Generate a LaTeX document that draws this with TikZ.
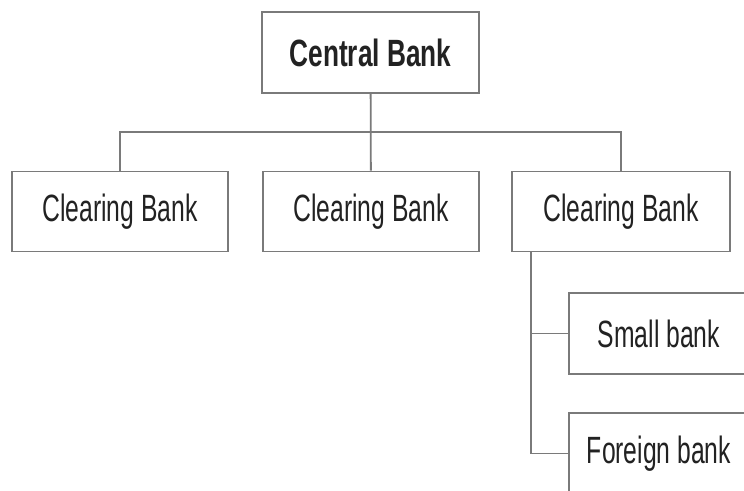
\documentclass[tikz,border=0pt]{standalone}
\usepackage{fontspec}
\setmainfont{Liberation Sans}[FakeStretch=0.65]
\newfontfamily\headfont{Liberation Sans}[FakeStretch=0.69]
\usepackage{tikz}
\definecolor{linegray}{HTML}{7A7A7A}
\definecolor{textdark}{HTML}{222222}
\tikzset{
	bankbox/.style={draw=linegray, line width=1.8pt, fill=white, text=textdark,
		minimum width=216pt, minimum height=80pt, inner sep=0pt,
		font=\fontsize{38}{40}\selectfont},
	topbox/.style={bankbox, minimum width=217pt, minimum height=81pt,
		font=\headfont\bfseries\fontsize{38}{40}\selectfont},
	subbox/.style={bankbox, minimum width=180pt, minimum height=81pt},
	link/.style={draw=linegray, line width=1.8pt}
}

\begin{document}
\begin{tikzpicture}[x=1pt, y=1pt]
		%%%%% START %%%%%
		
		\useasboundingbox (0, 0) rectangle (744, 490);
		\clip (0, 0) rectangle (744, 490);
		
		\node[topbox] (central) at (370.5, 437.5) {Central Bank};
		
		\node[bankbox] (clearA) at (120, 278.5) {Clearing Bank};
		\node[bankbox] (clearB) at (371, 278.5) {Clearing Bank};
		\node[bankbox, minimum width=218pt] (clearC) at (621, 278.5) {Clearing Bank};
		
		\node[subbox] (small) at (659, 156.5) {Small bank};
		\node[subbox] (foreign) at (659, 36.5) {Foreign bank};
		
		\coordinate (bus) at (371, 358);
		\coordinate (trunk) at ([xshift=20pt]clearC.south west);
		
		\draw[link] (central) -- (clearB);
		\draw[link] (clearA.north) |- (bus) -| (clearC.north);
		
		\draw[link] (trunk) |- (small.west);
		\draw[link] (trunk) |- (foreign.west);
		
		%%%%% END %%%%%
	\end{tikzpicture}
\end{document}
